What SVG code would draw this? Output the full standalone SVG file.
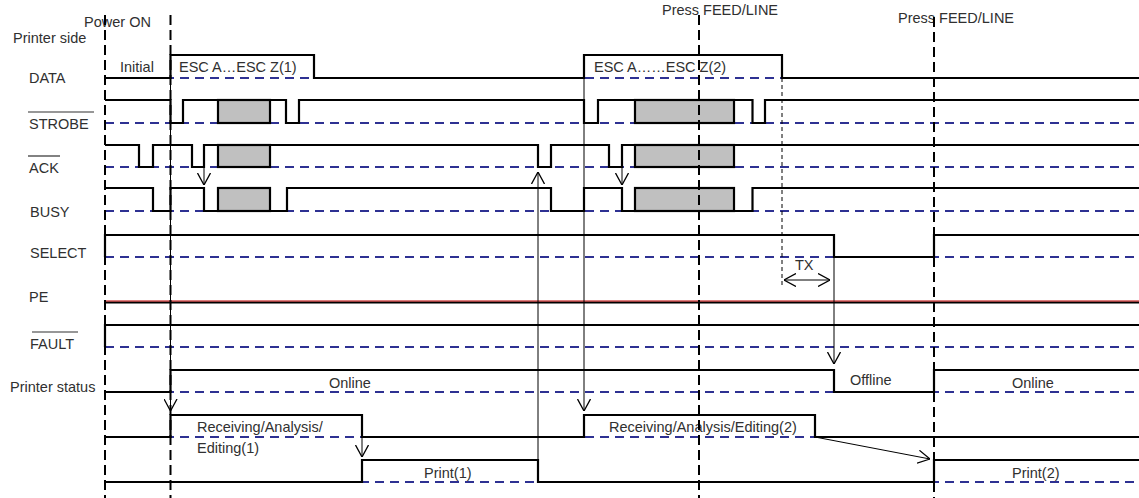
<svg xmlns="http://www.w3.org/2000/svg" width="1139" height="498" viewBox="0 0 1139 498">
<style>
text{font-family:"Liberation Sans",Arial,sans-serif;font-size:14.5px;fill:#303030}
.base{stroke:#2e3192;stroke-width:2;stroke-dasharray:9 6;fill:none}
.sig{stroke:#000;stroke-width:2.2;fill:none}
.gray{fill:#c0c0c0;stroke:#000;stroke-width:2.2}
.vdash{stroke:#000;stroke-width:2;stroke-dasharray:10 5;fill:none}
.thin{stroke:#000;stroke-width:1;fill:none}
.ov{stroke:#303030;stroke-width:1.2}
</style>
<defs>
<marker id="ah" viewBox="0 0 12 14" refX="12" refY="7" markerWidth="12" markerHeight="14" markerUnits="userSpaceOnUse" orient="auto-start-reverse">
<path d="M0,0.5 L12,7 L0,13.5" fill="none" stroke="#000" stroke-width="1.3"/>
</marker>
</defs>
<g id="baselines">
<line class="base" x1="105" y1="78" x2="1139" y2="78"/>
<line class="base" x1="105" y1="123" x2="1139" y2="123"/>
<line class="base" x1="105" y1="167" x2="1139" y2="167"/>
<line class="base" x1="105" y1="211" x2="1139" y2="211"/>
<line class="base" x1="105" y1="257" x2="1139" y2="257"/>
<line class="base" x1="105" y1="347" x2="1139" y2="347"/>
<line class="base" x1="105" y1="392" x2="1139" y2="392"/>
<line class="base" x1="105" y1="437" x2="1139" y2="437"/>
<line class="base" x1="105" y1="482" x2="1139" y2="482"/>
</g>
<g id="labels">
<text x="84" y="27">Power ON</text>
<text x="13" y="43">Printer side</text>
<text x="29" y="83">DATA</text>
<text x="29" y="129">STROBE</text>
<line class="ov" x1="28" y1="112" x2="94" y2="112"/>
<text x="29" y="173">ACK</text>
<line class="ov" x1="28" y1="156" x2="60" y2="156"/>
<text x="30" y="217">BUSY</text>
<text x="30" y="258">SELECT</text>
<text x="29" y="302">PE</text>
<text x="30" y="349">FAULT</text>
<line class="ov" x1="32" y1="332" x2="78" y2="332"/>
<text x="10" y="392">Printer status</text>
<text x="662" y="15">Press FEED/LINE</text>
<text x="898" y="23">Press FEED/LINE</text>
</g>
<g id="DATA">
<polyline class="sig" points="105,78 170.5,78 170.5,55 314,55 314,78 584,78 584,55 782,55 782,78 1139,78"/>
<text x="120" y="72">Initial</text>
<text x="179" y="72">ESC A…ESC Z(1)</text>
<text x="594" y="72">ESC A……ESC Z(2)</text>
</g>
<g id="STROBE">
<polyline class="sig" points="105,100 170.5,100 170.5,123 183,123 183,100 218,100"/>
<rect class="gray" x="218" y="100" width="52" height="23"/>
<polyline class="sig" points="270,100 286,100 286,123 299,123 299,100 584,100 584,123 598,123 598,100 635,100"/>
<rect class="gray" x="635" y="100" width="99" height="23"/>
<polyline class="sig" points="734,100 752.5,100 752.5,123 765,123 765,100 1139,100"/>
</g>
<g id="ACK">
<polyline class="sig" points="105,145 139,145 139,167 153,167 153,145 192,145 192,167 204,167 204,145 218,145"/>
<rect class="gray" x="218" y="145" width="52" height="22"/>
<polyline class="sig" points="270,145 538,145 538,167 551,167 551,145 609,145 609,167 622,167 622,145 635,145"/>
<rect class="gray" x="635" y="145" width="99" height="22"/>
<polyline class="sig" points="734,145 1139,145"/>
</g>
<g id="BUSY">
<polyline class="sig" points="105,188 153,188 153,211 170.5,211 170.5,188 204,188 204,211 218,211"/>
<rect class="gray" x="218" y="188" width="52" height="23"/>
<polyline class="sig" points="270,211 287,211 287,188 551,188 551,211 584,211 584,188 622,188 622,211 635,211"/>
<rect class="gray" x="635" y="188" width="99" height="23"/>
<polyline class="sig" points="734,211 752.5,211 752.5,188 1139,188"/>
</g>
<g id="SELECT">
<polyline class="sig" points="105,257 105,235 834,235 834,257 934,257 934,235 1139,235"/>
</g>
<g id="PE">
<line x1="105" y1="302.5" x2="1139" y2="302.5" stroke="#000" stroke-width="2.2"/>
<line x1="105" y1="301" x2="1139" y2="301" stroke="#c00000" stroke-width="1.2"/>
</g>
<g id="FAULT">
<polyline class="sig" points="105,347 105,325 1139,325"/>
</g>
<g id="STATUS">
<polyline class="sig" points="105,392 170.5,392 170.5,370 834,370 834,392 934,392 934,370 1139,370"/>
<text x="329" y="388">Online</text>
<text x="850" y="385">Offline</text>
<text x="1012" y="388">Online</text>
</g>
<g id="RECEIVING">
<polyline class="sig" points="105,437 170.5,437 170.5,415 362,415 362,437 584,437 584,415 815,415 815,437 1139,437"/>
<text x="197" y="432">Receiving/Analysis/</text>
<text x="197" y="453">Editing(1)</text>
<text x="609" y="432">Receiving/Analysis/Editing(2)</text>
</g>
<g id="PRINT">
<polyline class="sig" points="105,482 362,482 362,460 538,460 538,482 934,482 934,460 1139,460"/>
<text x="424" y="478">Print(1)</text>
<text x="1012" y="478">Print(2)</text>
</g>
<g id="markers">
<line class="vdash" x1="105" y1="15" x2="105" y2="498"/>
<line class="vdash" x1="170.5" y1="15" x2="170.5" y2="498"/>
<line class="vdash" x1="699" y1="15" x2="699" y2="498"/>
<line class="vdash" x1="934" y1="17" x2="934" y2="498"/>
<line x1="782" y1="78" x2="782" y2="286" stroke="#000" stroke-width="1" stroke-dasharray="4 3"/>
<text x="795" y="270">TX</text>
</g>
<g id="connectors">
<line class="thin" x1="170.5" y1="55" x2="170.5" y2="411" marker-end="url(#ah)"/>
<line class="thin" x1="584" y1="55" x2="584" y2="411" marker-end="url(#ah)"/>
<line class="thin" x1="204" y1="167" x2="204" y2="185" marker-end="url(#ah)"/>
<line class="thin" x1="622" y1="167" x2="622" y2="185" marker-end="url(#ah)"/>
<line class="thin" x1="538" y1="460" x2="538" y2="172" marker-end="url(#ah)"/>
<line class="thin" x1="362" y1="437" x2="362" y2="457" marker-end="url(#ah)"/>
<line class="thin" x1="834" y1="257" x2="834" y2="364" marker-end="url(#ah)"/>
<line class="thin" x1="815" y1="437" x2="930" y2="459" marker-end="url(#ah)"/>
<line class="thin" x1="784" y1="280" x2="830" y2="280" marker-start="url(#ah)" marker-end="url(#ah)"/>
</g>
</svg>
